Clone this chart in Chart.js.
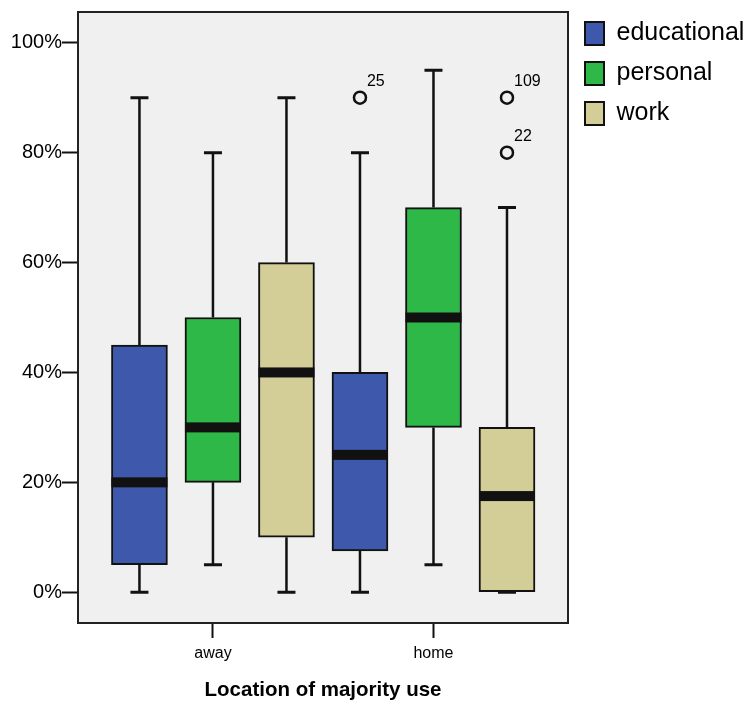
<!DOCTYPE html>
<html>
<head>
<meta charset="utf-8">
<script src="https://cdn.jsdelivr.net/npm/chart.js@4/dist/chart.umd.min.js"></script>
<style>
  html, body { margin: 0; padding: 0; background: #ffffff; }
  #wrap { width: 747px; height: 704px; }
</style>
</head>
<body>
<div id="wrap"><canvas id="chart" width="747" height="704"></canvas></div>
<script>
// Share of use (%) by purpose, split by location of majority use.
const locations = ['away', 'home'];
const groups = ['educational', 'personal', 'work'];
const groupColors = ['#3e58ac', '#2eb848', '#d3ce97'];

// Box-plot statistics, indexed [group][location]
const whiskerLow  = [[0, 0],  [5, 5],   [0, 0]];
const q1          = [[5, 7.5], [20, 30], [10, 0]];
const medians     = [[20, 25], [30, 50], [40, 17.5]];
const q3          = [[45, 40], [50, 70], [60, 30]];
const whiskerHigh = [[90, 80], [80, 95], [90, 70]];

// Outlying cases
const outlierGroup    = [0, 2, 2];
const outlierLocation = [1, 1, 1];
const outlierValues   = [90, 90, 80];
const outlierIds      = ['25', '109', '22'];

const yTicks = [0, 20, 40, 60, 80, 100];

const FONT = "'Liberation Sans', Arial, Helvetica, sans-serif";
const INK = '#111111';

// x position of a group's box inside its location slot
const slotX = (g, l) => l + 1 + (g - 1) / 3;

const boxDatasets = groups.map((name, g) => ({
  type: 'bar',
  label: name,
  data: locations.map((_, l) => ({ x: slotX(g, l), y: [q1[g][l], q3[g][l]] })),
  backgroundColor: groupColors[g],
  borderColor: INK,
  borderWidth: 2,
  borderSkipped: false,
  barThickness: 56,
  grouped: false
}));

const outlierDataset = {
  type: 'scatter',
  label: 'outliers',
  data: outlierValues.map((v, i) => ({ x: slotX(outlierGroup[i], outlierLocation[i]), y: v })),
  pointStyle: 'circle',
  pointRadius: 6,
  pointBorderWidth: 2.5,
  pointBackgroundColor: '#f0f0f0',
  pointBorderColor: INK
};

const boxPlotPlugin = {
  id: 'boxPlotParts',
  beforeDraw(chart) {
    const { ctx, chartArea: a } = chart;
    ctx.save();
    ctx.fillStyle = '#f0f0f0';
    ctx.fillRect(a.left, a.top, a.right - a.left, a.bottom - a.top);
    ctx.restore();
  },
  afterDatasetsDraw(chart) {
    const { ctx, chartArea: a, scales: { y } } = chart;
    ctx.save();
    ctx.strokeStyle = INK;
    ctx.fillStyle = INK;
    groups.forEach((_, g) => {
      const meta = chart.getDatasetMeta(g);
      meta.data.forEach((bar, l) => {
        const { x: cx, width } = bar.getProps(['x', 'width'], true);
        const yLow = y.getPixelForValue(whiskerLow[g][l]);
        const yQ1 = y.getPixelForValue(q1[g][l]);
        const yQ3 = y.getPixelForValue(q3[g][l]);
        const yHigh = y.getPixelForValue(whiskerHigh[g][l]);
        const yMed = y.getPixelForValue(medians[g][l]);
        // whisker stems
        ctx.lineWidth = 2.5;
        ctx.beginPath();
        ctx.moveTo(cx, yQ3); ctx.lineTo(cx, yHigh);
        ctx.moveTo(cx, yQ1); ctx.lineTo(cx, yLow);
        ctx.stroke();
        // whisker caps
        ctx.lineWidth = 3;
        ctx.beginPath();
        ctx.moveTo(cx - 9, yHigh); ctx.lineTo(cx + 9, yHigh);
        ctx.moveTo(cx - 9, yLow); ctx.lineTo(cx + 9, yLow);
        ctx.stroke();
        // median bar
        ctx.fillRect(cx - width / 2, yMed - 5, width, 10);
      });
    });
    // frame: top and right edges
    ctx.lineWidth = 2;
    ctx.strokeStyle = '#222222';
    ctx.beginPath();
    ctx.moveTo(a.left, a.top); ctx.lineTo(a.right, a.top); ctx.lineTo(a.right, a.bottom);
    ctx.stroke();
    // case labels beside the outliers
    const om = chart.getDatasetMeta(groups.length);
    ctx.font = '16px ' + FONT;
    ctx.textAlign = 'left';
    ctx.textBaseline = 'alphabetic';
    ctx.fillStyle = '#000000';
    om.data.forEach((pt, i) => {
      ctx.fillText(outlierIds[i], pt.x + 7, pt.y - 12);
    });
    ctx.restore();
  }
};

new Chart(document.getElementById('chart'), {
  type: 'bar',
  data: { datasets: [...boxDatasets, outlierDataset] },
  plugins: [boxPlotPlugin],
  options: {
    responsive: false,
    animation: false,
    layout: { padding: { top: 6, left: 0, right: 0, bottom: 0 } },
    plugins: {
      tooltip: { enabled: false },
      legend: {
        position: 'right',
        align: 'start',
        maxWidth: 177,
        labels: {
          boxWidth: 19,
          boxHeight: 23,
          padding: 15,
          color: '#000000',
          font: { family: FONT, size: 25 },
          filter: item => item.datasetIndex < groups.length
        }
      }
    },
    scales: {
      x: {
        type: 'linear',
        offset: false,
        min: 0.388,
        max: 2.61,
        afterFit: s => { s.height = 81; },
        afterBuildTicks: s => { s.ticks = locations.map((_, l) => ({ value: l + 1 })); },
        ticks: {
          color: '#000000',
          padding: 6,
          font: { family: FONT, size: 16 },
          callback: v => locations[Math.round(v) - 1]
        },
        grid: { offset: false, drawOnChartArea: false, drawTicks: true, tickLength: 15, tickWidth: 2, tickColor: INK },
        border: { display: true, color: '#222222', width: 2 },
        title: {
          display: true,
          text: 'Location of majority use',
          color: '#000000',
          font: { family: FONT, size: 20.5, weight: 'bold' },
          padding: { top: 0, bottom: 1.5 }
        }
      },
      topGap: {
        type: 'linear',
        axis: 'x',
        position: 'top',
        display: true,
        afterFit: s => { s.height = 4; },
        ticks: { display: false },
        grid: { display: false },
        border: { display: false }
      },
      y: {
        type: 'linear',
        min: -5.6,
        max: 105.6,
        afterFit: s => { s.width = 78; },
        afterBuildTicks: s => { s.ticks = yTicks.map(v => ({ value: v })); },
        ticks: {
          color: '#000000',
          padding: 0,
          font: { family: FONT, size: 20 },
          callback: v => v + '%'
        },
        grid: { drawOnChartArea: false, drawTicks: true, tickLength: 16, tickWidth: 2, tickColor: INK },
        border: { display: true, color: '#222222', width: 2 }
      },
      rightGap: {
        type: 'linear',
        axis: 'y',
        position: 'right',
        display: true,
        afterFit: s => { s.width = 2; },
        ticks: { display: false },
        grid: { display: false },
        border: { display: false }
      }
    }
  }
});
</script>
</body>
</html>
